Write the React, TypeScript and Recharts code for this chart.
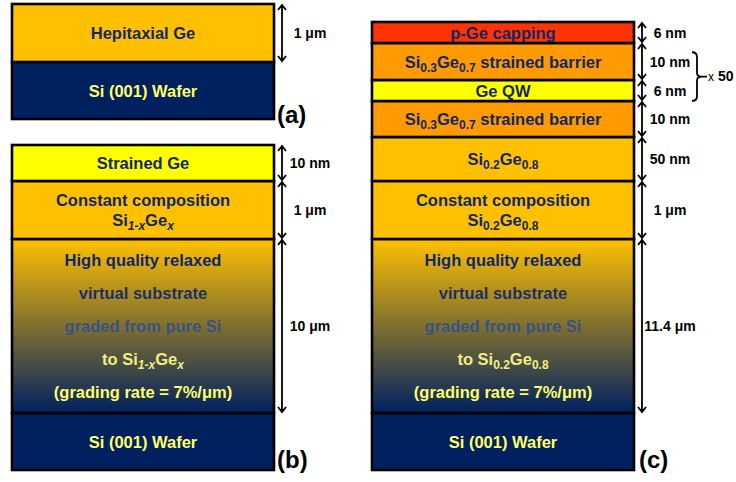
import React from 'react';
import { BarChart, Bar, XAxis, YAxis } from 'recharts';

const FONT = '"Liberation Sans", Arial, Helvetica, sans-serif';
const INK = '#112766';
const PALE = '#FFFF66';

// Layer stacks, listed from the wafer upwards. Heights are drawn units,
// thickness labels are what the arrows on the right say.
const layersA = ['wafer', 'hepiGe'];
const heightsA = [57, 58];
const thicknessA = [null, '1 μm'];

const layersB = ['wafer', 'gradedX', 'constX', 'strainedGe'];
const heightsB = [57, 174, 58, 36];
const thicknessB = [null, '10 μm', '1 μm', '10 nm'];

const layersC = ['wafer', 'graded82', 'const82', 'sige82', 'barrier', 'qw', 'barrier', 'cap'];
const heightsC = [57, 174, 58, 44, 36, 21, 37, 21];
const thicknessC = [null, '11.4 μm', '1 μm', '50 nm', '10 nm', '6 nm', '10 nm', '6 nm'];

const repeatCount = '50';

// text lines per layer; _{..} is a subscript, _[..] an italic subscript
const LAYER_TEXT: Record<string, string[]> = {
  wafer: ['Si (001) Wafer'],
  hepiGe: ['Hepitaxial Ge'],
  strainedGe: ['Strained Ge'],
  constX: ['Constant composition', 'Si_[1-x]Ge_[x]'],
  gradedX: ['High quality relaxed', 'virtual substrate', 'graded from pure Si', 'to Si_[1-x]Ge_[x]', '(grading rate = 7%/μm)'],
  const82: ['Constant composition', 'Si_{0.2}Ge_{0.8}'],
  graded82: ['High quality relaxed', 'virtual substrate', 'graded from pure Si', 'to Si_{0.2}Ge_{0.8}', '(grading rate = 7%/μm)'],
  sige82: ['Si_{0.2}Ge_{0.8}'],
  barrier: ['Si_{0.3}Ge_{0.7} strained barrier'],
  qw: ['Ge QW'],
  cap: ['p-Ge capping'],
};

const GRADED_INK = [INK, '#1c2f66', '#3a5282', '#F2EE80', PALE];

const LAYER_STYLE: Record<string, { fill: string; ink: string[]; gap: number }> = {
  wafer: { fill: '#002060', ink: [PALE], gap: 0 },
  hepiGe: { fill: '#FFC000', ink: [INK], gap: 0 },
  strainedGe: { fill: '#FFFF00', ink: [INK], gap: 0 },
  constX: { fill: '#FFC000', ink: [INK, INK], gap: 20 },
  gradedX: { fill: 'gradient', ink: GRADED_INK, gap: 33 },
  const82: { fill: '#FFC000', ink: [INK, INK], gap: 20 },
  graded82: { fill: 'gradient', ink: GRADED_INK, gap: 33 },
  sige82: { fill: '#FFC000', ink: [INK], gap: 0 },
  barrier: { fill: '#FF9A00', ink: [INK], gap: 0 },
  qw: { fill: '#FFFF00', ink: [INK], gap: 0 },
  cap: { fill: '#FF3300', ink: [INK], gap: 0 },
};

type Seg = { text: string; sub: boolean; italic: boolean };

function parseRich(s: string): Seg[] {
  const out: Seg[] = [];
  const re = /_\{([^}]*)\}|_\[([^\]]*)\]/g;
  let last = 0;
  let m: RegExpExecArray | null;
  while ((m = re.exec(s)) !== null) {
    if (m.index > last) out.push({ text: s.slice(last, m.index), sub: false, italic: false });
    if (m[1] !== undefined) out.push({ text: m[1], sub: true, italic: false });
    else out.push({ text: m[2], sub: true, italic: true });
    last = re.lastIndex;
  }
  if (last < s.length) out.push({ text: s.slice(last), sub: false, italic: false });
  return out;
}

function RichText({ x, y, text, fill }: { x: number; y: number; text: string; fill: string }) {
  const segs = parseRich(text);
  let prevSub = false;
  return (
    <text x={x} y={y} textAnchor="middle" fontFamily={FONT} fontWeight="bold" fontSize={16.5} fill={fill}>
      {segs.map((s, i) => {
        const dy = s.sub && !prevSub ? 4 : !s.sub && prevSub ? -4 : 0;
        prevSub = s.sub;
        return (
          <tspan key={i} dy={dy} fontSize={s.sub ? 12 : 16.5} fontStyle={s.italic ? 'italic' : 'normal'}>
            {s.text}
          </tspan>
        );
      })}
    </text>
  );
}

function DoubleArrow({ x, top, bottom }: { x: number; top: number; bottom: number }) {
  const d = `M${x},${top + 1} L${x},${bottom - 1} ` +
    `M${x - 4},${top + 6} L${x},${top + 1} L${x + 4},${top + 6} ` +
    `M${x - 4},${bottom - 6} L${x},${bottom - 1} L${x + 4},${bottom - 6}`;
  return <path d={d} fill="none" stroke="#000" strokeWidth={1.8} />;
}

function Layer(props: any) {
  const { x, y, width, height, layer, thickness, tag, tagDx, tagDy, braceAbovePx, gradId } = props;
  const st = LAYER_STYLE[layer];
  const lines = LAYER_TEXT[layer];
  const cx = x + width / 2;
  const cy = y + height / 2;
  const first = cy - ((lines.length - 1) * st.gap) / 2;
  const ax = x + width + 8;
  const fill = st.fill === 'gradient' ? `url(#${gradId})` : st.fill;

  let brace = null;
  if (braceAbovePx) {
    const bx = ax + 50;
    const top = y - braceAbovePx * 0.75;
    const bottom = y + height;
    const mid = (top + bottom) / 2;
    const d = `M${bx},${top} Q${bx + 5},${top} ${bx + 5},${top + 5} L${bx + 5},${mid - 4} ` +
      `Q${bx + 5},${mid} ${bx + 10},${mid} Q${bx + 5},${mid} ${bx + 5},${mid + 4} ` +
      `L${bx + 5},${bottom - 5} Q${bx + 5},${bottom} ${bx},${bottom} M${bx + 10},${mid} L${bx + 15},${mid}`;
    brace = (
      <g>
        <path d={d} fill="none" stroke="#000" strokeWidth={1.8} />
        <text x={bx + 16} y={mid + 4} fontFamily={FONT} fontWeight="bold" fontSize={14} fill="#000">
          <tspan fontSize={12} fontWeight="normal">x</tspan> {repeatCount}
        </text>
      </g>
    );
  }

  return (
    <g>
      {st.fill === 'gradient' && (
        <defs>
          <linearGradient id={gradId} x1="0" y1="0" x2="0" y2="1">
            <stop offset="0%" stopColor="#FFC000" />
            <stop offset="100%" stopColor="#002060" />
          </linearGradient>
        </defs>
      )}
      <rect x={x} y={y} width={width} height={height} fill={fill} stroke="#000" strokeWidth={2.6} />
      {lines.map((ln, i) => (
        <RichText key={i} x={cx} y={first + i * st.gap + 6} text={ln} fill={st.ink[i] ?? INK} />
      ))}
      {thickness && (
        <g>
          <DoubleArrow x={ax} top={y} bottom={y + height} />
          <text x={ax + 28} y={cy + 5} textAnchor="middle" fontFamily={FONT} fontWeight="bold" fontSize={14} fill="#000">
            {thickness}
          </text>
        </g>
      )}
      {tag && (
        <text x={x + width + tagDx} y={y + height + tagDy} fontFamily={FONT} fontWeight="bold" fontSize={24} fill="#000">
          ({tag})
        </text>
      )}
      {brace}
    </g>
  );
}

type StackProps = {
  width: number;
  height: number;
  margin: { top: number; right: number; bottom: number; left: number };
  names: string[];
  heights: number[];
  thickness: (string | null)[];
  tag: string;
  tagDx: number;
  tagDy: number;
};

function Stack({ width, height, margin, names, heights, thickness, tag, tagDx, tagDy }: StackProps) {
  const row: Record<string, string | number> = { panel: tag };
  names.forEach((_, i) => { row[`l${i}`] = heights[i]; });
  const total = heights.reduce((a, b) => a + b, 0);
  const plotH = height - margin.top - margin.bottom;
  const px = plotH / total;
  return (
    <BarChart width={width} height={height} data={[row]} margin={margin} barCategoryGap={0}>
      <XAxis dataKey="panel" hide />
      <YAxis type="number" domain={[0, total]} ticks={[0, total]} hide />
      {names.map((n, i) => (
        <Bar
          key={i}
          dataKey={`l${i}`}
          stackId="stack"
          isAnimationActive={false}
          shape={(p: any) => (
            <Layer
              {...p}
              layer={n}
              thickness={thickness[i]}
              tag={i === 0 ? tag : null}
              tagDx={tagDx}
              tagDy={tagDy}
              gradId={`graded-${tag}`}
              braceAbovePx={n === 'qw' ? heights[i + 1] * px : 0}
            />
          )}
        />
      ))}
    </BarChart>
  );
}

export default function App() {
  return (
    <div style={{ position: 'absolute', left: 0, top: 0, width: 736, height: 482, background: '#fff', overflow: 'hidden' }}>
      <div style={{ position: 'absolute', left: 0, top: 0 }}>
        <Stack width={360} height={130} margin={{ top: 4, right: 86, bottom: 11, left: 12 }}
          names={layersA} heights={heightsA} thickness={thicknessA} tag="a" tagDx={3} tagDy={4} />
      </div>
      <div style={{ position: 'absolute', left: 0, top: 140 }}>
        <Stack width={360} height={342} margin={{ top: 5, right: 86, bottom: 12, left: 12 }}
          names={layersB} heights={heightsB} thickness={thicknessB} tag="b" tagDx={3} tagDy={-2} />
      </div>
      <div style={{ position: 'absolute', left: 360, top: 0 }}>
        <Stack width={376} height={482} margin={{ top: 22, right: 102, bottom: 12, left: 12 }}
          names={layersC} heights={heightsC} thickness={thicknessC} tag="c" tagDx={5} tagDy={-2} />
      </div>
    </div>
  );
}
